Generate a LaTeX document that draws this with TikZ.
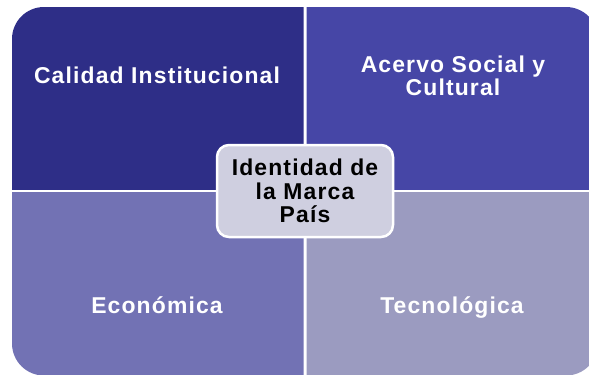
\documentclass[tikz,border=0pt]{standalone}
\usepackage{fontspec}
\setmainfont{Liberation Sans}
\newfontfamily\lblfont[LetterSpace=5]{Liberation Sans}
\definecolor{cTL}{RGB}{46,46,135}
\definecolor{cTR}{RGB}{70,70,166}
\definecolor{cBL}{RGB}{114,114,180}
\definecolor{cBR}{RGB}{155,155,192}
\definecolor{cC}{RGB}{207,207,224}
\begin{document}
\begin{tikzpicture}[x=1bp,y=-1bp,
  quad/.style={rounded corners=32bp},
  lbl/.style={text=white,font=\lblfont\fontsize{23}{23}\selectfont\bfseries,align=center,inner sep=0pt},
  hub/.style={draw=white,line width=2.5bp,fill=cC,rounded corners=12bp,
    minimum width=176bp,minimum height=92bp,align=center,inner sep=0pt,
    text=black,font=\lblfont\fontsize{23}{23.5}\selectfont\bfseries}]
\useasboundingbox (0,0) rectangle (589,374);
\fill[white] (0,0) rectangle (589,374);
\begin{scope}
  \clip (0,0) rectangle (303.5,189.5);
  \fill[cTL,quad] (12,7) rectangle (598,375.5);
\end{scope}
\begin{scope}
  \clip (306.5,0) rectangle (600,189.5);
  \fill[cTR,quad] (12,7) rectangle (598,375.5);
\end{scope}
\begin{scope}
  \clip (0,192.5) rectangle (303.5,380);
  \fill[cBL,quad] (12,7) rectangle (598,375.5);
\end{scope}
\begin{scope}
  \clip (306.5,192.5) rectangle (600,380);
  \fill[cBR,quad] (12,7) rectangle (598,375.5);
\end{scope}
\node[lbl,anchor=base] (calidad) at (157,83) {Calidad Institucional};
\node[lbl] (acervo) at (453,76) {Acervo Social y\\Cultural};
\node[lbl,anchor=base] (economica) at (157,313) {Económica};
\node[lbl,anchor=base] (tecno) at (452,313.5) {Tecnológica};
\node[hub] (identidad) at (305,191) {Identidad de\\la Marca\\País};
\end{tikzpicture}
\end{document}
